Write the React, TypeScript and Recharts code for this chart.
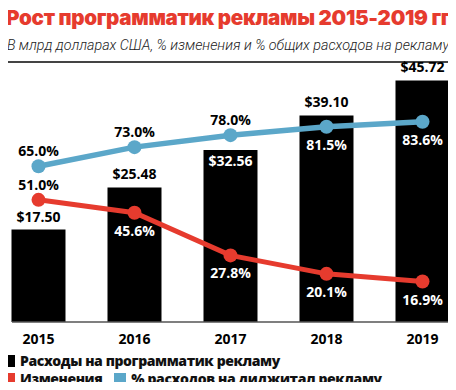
import { ComposedChart, Bar, Line, XAxis, YAxis, LabelList } from 'recharts';

const years = ['2015', '2016', '2017', '2018', '2019'];
const spend = [17.5, 25.48, 32.56, 39.1, 45.72];
const change = [51.0, 45.6, 27.8, 20.1, 16.9];
const digitalShare = [65.0, 73.0, 78.0, 81.5, 83.6];

const data = years.map((year, i) => ({
  idx: i,
  year,
  spend: spend[i],
  change: change[i],
  share: digitalShare[i],
}));

const RED = '#e63b2e';
const BLUE = '#5ba7c9';
const FONT = '"Open Sans", sans-serif';

// label placement per point: true = inside bar / below point
const spendInside = [false, false, true, false, false];
const shareBelow = [false, false, false, true, true];
const changeBelow = [false, true, true, true, true];

const labelStyle = { fontFamily: FONT, fontWeight: 700, fontSize: 14 };

function SpendLabel(props: any) {
  const { x, y, width, value, index } = props;
  const inside = spendInside[index];
  return (
    <text
      x={x + width / 2}
      y={inside ? y + 16 : y - 8}
      textAnchor="middle"
      fill={inside ? '#fff' : '#000'}
      style={labelStyle}
    >
      ${value.toFixed(2)}
    </text>
  );
}

function makePctLabel(below: boolean[]) {
  return function PctLabel(props: any) {
    const { x, y, value, index } = props;
    const b = below[index];
    return (
      <text
        x={x}
        y={b ? y + 23 : y - 10}
        textAnchor="middle"
        fill={b ? '#fff' : '#000'}
        style={labelStyle}
      >
        {value.toFixed(1)}%
      </text>
    );
  };
}

const legendRow = { display: 'flex', alignItems: 'center', height: 18, lineHeight: '18px' } as const;
const swatch = (c: string) => ({ width: 12, height: 12, background: c, marginRight: 5 });
const legendText = { fontFamily: FONT, fontWeight: 800, fontSize: 14, letterSpacing: -0.4, color: '#111' };

export default function App() {
  return (
    <div style={{ position: 'relative', width: 456, height: 390, margin: -8, background: '#fff', overflow: 'hidden' }}>
      <div
        style={{
          position: 'absolute',
          left: 0,
          width: 456,
          top: 5,
          textAlign: 'center',
          fontFamily: 'Inter, sans-serif',
          fontWeight: 900,
          fontSize: 20.6,
          letterSpacing: -0.3,
          color: RED,
          whiteSpace: 'nowrap',
        }}
      >
        Рост программатик рекламы 2015-2019 гг
      </div>
      <div
        style={{
          position: 'absolute',
          left: 0,
          width: 456,
          top: 37,
          textAlign: 'center',
          fontFamily: 'Roboto, sans-serif',
          fontWeight: 300,
          fontStyle: 'italic',
          fontSize: 14.3,
          color: '#222',
          whiteSpace: 'nowrap',
        }}
      >
        В млрд долларах США, % изменения и % общих расходов на рекламу
      </div>
      <div style={{ position: 'absolute', left: 0, top: 61, width: 456, height: 1.5, background: '#444' }} />

      <div style={{ position: 'absolute', left: 0, top: 0 }}>
        <ComposedChart width={456} height={390} data={data} margin={{ top: 70, bottom: 38, left: 12, right: 0 }}>
          <XAxis
            dataKey="idx"
            type="number"
            domain={[-0.276, 4.349]}
            ticks={[0, 1, 2, 3, 4]}
            tickFormatter={(v: number) => years[v]}
            axisLine={{ stroke: '#555', strokeWidth: 1.5 }}
            tickLine={false}
            tick={{ fill: '#000', fontFamily: FONT, fontWeight: 700, fontSize: 14 }}
            tickMargin={6}
            height={30}
          />
          <YAxis yAxisId="usd" hide domain={[0, 47.7]} />
          <YAxis yAxisId="pct" hide orientation="right" domain={[0, 105.2]} />
          <Bar yAxisId="usd" dataKey="spend" fill="#000" barSize={54} isAnimationActive={false}>
            <LabelList dataKey="spend" content={SpendLabel} />
          </Bar>
          <Line
            yAxisId="pct"
            dataKey="change"
            stroke={RED}
            strokeWidth={5}
            dot={{ r: 7, fill: RED, stroke: RED, strokeWidth: 0 }}
            isAnimationActive={false}
          >
            <LabelList dataKey="change" content={makePctLabel(changeBelow)} />
          </Line>
          <Line
            yAxisId="pct"
            dataKey="share"
            stroke={BLUE}
            strokeWidth={5.5}
            dot={{ r: 7, fill: BLUE, stroke: BLUE, strokeWidth: 0 }}
            isAnimationActive={false}
          >
            <LabelList dataKey="share" content={makePctLabel(shareBelow)} />
          </Line>
        </ComposedChart>
      </div>

      <div style={{ position: 'absolute', left: 3, top: 352 }}>
        <div style={legendRow}>
          <div style={swatch('#000')} />
          <span style={legendText}>Расходы на программатик рекламу</span>
        </div>
        <div style={legendRow}>
          <div style={swatch(RED)} />
          <span style={{ ...legendText, marginRight: 12 }}>Изменения</span>
          <div style={swatch(BLUE)} />
          <span style={legendText}>% расходов на диджитал рекламу</span>
        </div>
      </div>
    </div>
  );
}
